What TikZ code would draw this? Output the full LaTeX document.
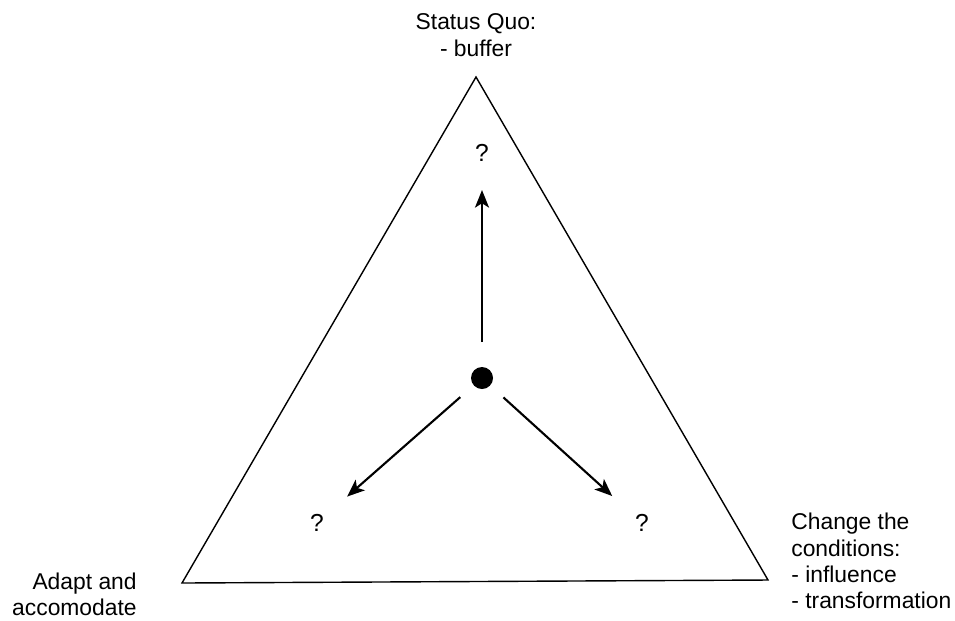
\documentclass[tikz,border=0pt]{standalone}
\usepackage{fontspec}
\setmainfont{Liberation Sans}
\usetikzlibrary{arrows.meta, positioning}
\tikzset{
  >=Stealth,
  lbl/.style={font=\fontsize{13}{15}\selectfont, inner sep=0pt},
  qmark/.style={font=\fontsize{14}{15}\selectfont, inner sep=1pt},
  hub/.style={circle, fill=black, inner sep=0pt, minimum size=0.44cm},
  side/.style={line width=0.8pt, line join=miter},
  push/.style={-{Stealth[length=10pt, width=8pt, inset=2.5pt]}, line width=1.2pt}
}
\begin{document}
\begin{tikzpicture}[x=0.02cm, y=-0.02cm]
  \useasboundingbox (0,0) rectangle (955,620);
  % corners of the triangle
  \coordinate (top) at (476,77);
  \coordinate (bl) at (182,583);
  \coordinate (br) at (768,580);
  \draw[side] (top) -- (bl) -- (br) -- cycle;
  % corner labels
  \node[lbl, align=center] (sq) at (476,35) {Status Quo:\\- buffer};
  \node[lbl, align=right, anchor=east] (adapt) at (137,594) {Adapt and\\accomodate};
  \node[lbl, align=left, anchor=north west] (change) at (791,513)
    {Change the\\conditions:\\- influence\\- transformation};
  % centre and the three directions
  \node[hub] (c) at (482,378) {};
  \node[qmark] (qt) at (482,153) {?};
  \node[qmark] (ql) at (317,523) {?};
  \node[qmark] (qr) at (642,523) {?};
  \draw[push, shorten <=14pt, shorten >=15pt] (c) -- (qt);
  \draw[push, shorten <=10pt, shorten >=16pt] (c) -- (ql);
  \draw[push, shorten <=10pt, shorten >=16pt] (c) -- (qr);
\end{tikzpicture}
\end{document}
